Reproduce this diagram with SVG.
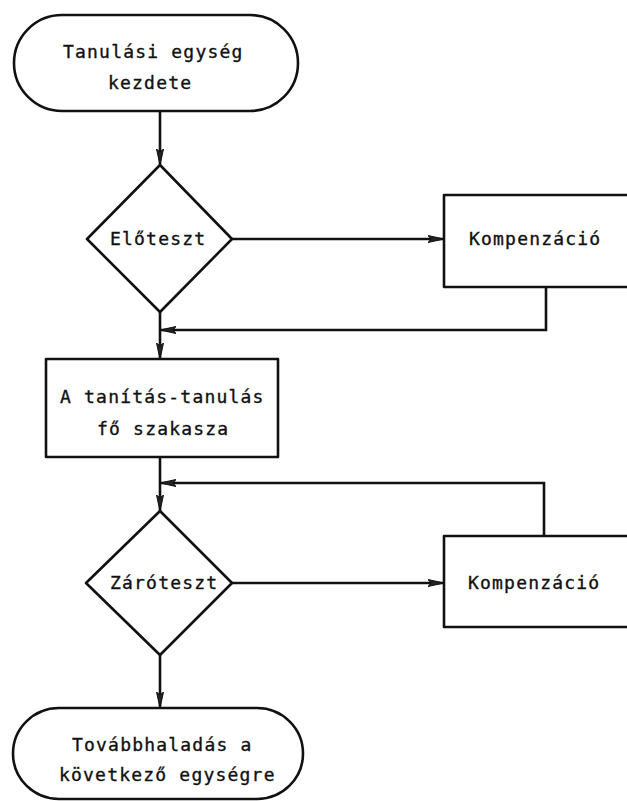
<svg xmlns="http://www.w3.org/2000/svg" width="627" height="801" viewBox="0 0 627 801">
<style>
.shape{fill:none;stroke:#111;stroke-width:2.6;stroke-linejoin:round}
.conn{fill:none;stroke:#111;stroke-width:2.6}
.t{font-family:"DejaVu Sans Mono","Liberation Mono",monospace;font-size:18px;letter-spacing:1.2px;fill:#111;stroke:#111;stroke-width:0.35}
</style>
<defs>
<marker id="arr" markerUnits="userSpaceOnUse" markerWidth="18" markerHeight="10" refX="16" refY="5" orient="auto">
<path d="M0,1.5 L16,5 L0,8.5 L3,5 Z" fill="#222" stroke="#111" stroke-width="1"/>
</marker>
</defs>
<rect width="627" height="801" fill="#fff"/>
<g id="connectors">
<path class="conn" d="M160,111 L160,165" marker-end="url(#arr)"/>
<path class="conn" d="M232,239 L444,239" marker-end="url(#arr)"/>
<path class="conn" d="M546,287 L546,330 L160,330" marker-end="url(#arr)"/>
<path class="conn" d="M160,312 L160,359" marker-end="url(#arr)"/>
<path class="conn" d="M160,457 L160,511" marker-end="url(#arr)"/>
<path class="conn" d="M544,536 L544,483 L160,483" marker-end="url(#arr)"/>
<path class="conn" d="M232,583 L444,583" marker-end="url(#arr)"/>
<path class="conn" d="M160,655 L160,708" marker-end="url(#arr)"/>
</g>
<g id="start">
<rect class="shape" x="14" y="15" width="284" height="96" rx="48" ry="48"/>
<text class="t" x="63" y="58">Tanulási egység</text>
<text class="t" x="108" y="89">kezdete</text>
</g>
<g id="pretest">
<polygon class="shape" points="160,165 232,239 160,312 87,239"/>
<text class="t" x="110" y="245">Előteszt</text>
</g>
<g id="comp1">
<path class="shape" d="M640,195 L444,195 L444,287 L640,287"/>
<text class="t" x="469" y="245">Kompenzáció</text>
</g>
<g id="main">
<rect class="shape" x="46" y="359" width="232" height="98"/>
<text class="t" x="60" y="403">A tanítás-tanulás</text>
<text class="t" x="97" y="435">fő szakasza</text>
</g>
<g id="posttest">
<polygon class="shape" points="160,511 232,583 160,655 86,583"/>
<text class="t" x="110" y="589">Záróteszt</text>
</g>
<g id="comp2">
<path class="shape" d="M640,536 L444,536 L444,627 L640,627"/>
<text class="t" x="468" y="589">Kompenzáció</text>
</g>
<g id="end">
<rect class="shape" x="13" y="708" width="290" height="91" rx="46" ry="46"/>
<text class="t" x="72" y="751">Továbbhaladás a</text>
<text class="t" x="59" y="781">következő egységre</text>
</g>
</svg>
